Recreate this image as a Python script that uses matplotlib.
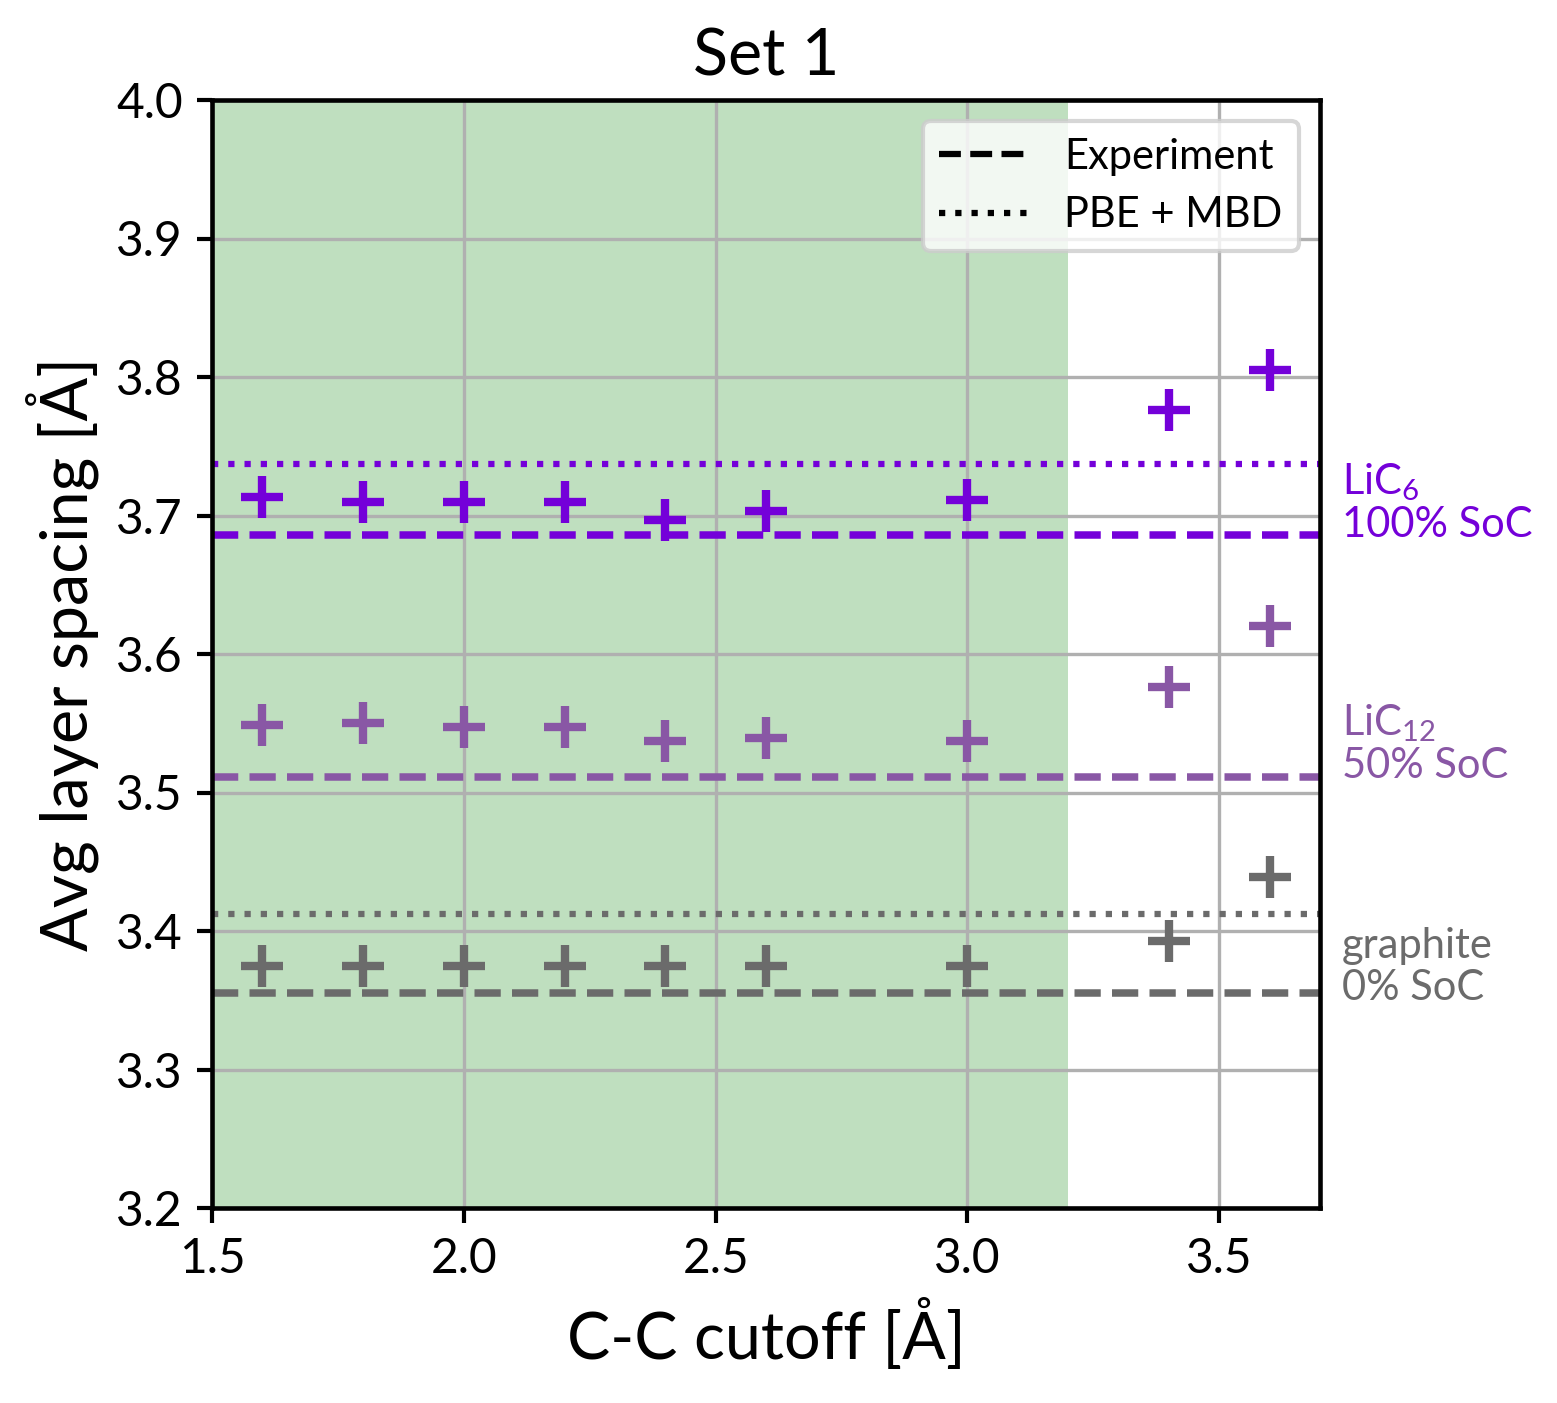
import matplotlib
matplotlib.use("Agg")
import matplotlib.pyplot as plt
import matplotlib.transforms as mtransforms

plt.rcParams['font.family'] = ['Lato', 'DejaVu Sans']
plt.rcParams['mathtext.fontset'] = 'custom'
plt.rcParams['mathtext.rm'] = 'Lato'
plt.rcParams['mathtext.it'] = 'Lato:italic'
plt.rcParams['mathtext.bf'] = 'Lato:bold'

cutoffs = [1.6, 1.8, 2.0, 2.2, 2.4, 2.6, 3.0, 3.4, 3.6]
lic6 = [3.713, 3.710, 3.710, 3.710, 3.697, 3.703, 3.711, 3.776, 3.805]
lic12 = [3.549, 3.550, 3.547, 3.547, 3.537, 3.539, 3.537, 3.576, 3.620]
graphite = [3.375, 3.375, 3.375, 3.375, 3.375, 3.375, 3.375, 3.393, 3.439]

exp_vals = {'lic6': 3.686, 'lic12': 3.511, 'graphite': 3.355}
mbd_vals = {'lic6': 3.737, 'graphite': 3.412}

colors = {'lic6': '#7400D9', 'lic12': '#8957A5', 'graphite': '#6B6B6B'}
labels = {'lic6': 'LiC$_6$\n100% SoC', 'lic12': 'LiC$_{12}$\n50% SoC', 'graphite': 'graphite\n0% SoC'}
label_y = {'lic6': 3.709, 'lic12': 3.535, 'graphite': 3.374}

green_range = (1.5, 3.2)
xlim = (1.5, 3.7)
ylim = (3.2, 4.0)

fig = plt.figure(figsize=(1557/300, 1403/300), dpi=300)
ax = fig.add_axes([212/1557, 1 - 1208/1403, (1320-212)/1557, (1208-100)/1403])

ax.axvspan(green_range[0], green_range[1], color='green', alpha=0.25, lw=0, zorder=1)
ax.grid(True, color='#b0b0b0', lw=0.8)

series = {'lic6': lic6, 'lic12': lic12, 'graphite': graphite}
for key, vals in series.items():
    c = colors[key]
    ax.plot(cutoffs, vals, linestyle='none', marker='+', ms=10, mew=2, color=c, zorder=3)
    ax.axhline(exp_vals[key], color=c, ls=(0, (3.5, 1.5)), lw=1.8, zorder=2.5)
    if key in mbd_vals:
        ax.axhline(mbd_vals[key], color=c, ls=(0, (1, 1.6)), lw=1.5, zorder=2.5)
    trans = mtransforms.blended_transform_factory(ax.transAxes, ax.transData)
    ax.text(1.02, label_y[key], labels[key], transform=trans, color=c, fontsize=10,
            va='center', ha='left', linespacing=1.1)

ax.plot([], [], color='black', ls=(0, (3.5, 1.5)), lw=1.5, label='Experiment')
ax.plot([], [], color='black', ls=(0, (1, 1.6)), lw=1.5, label='PBE + MBD')
ax.legend(loc='upper right', fontsize=10, handlelength=2.2, framealpha=0.8)

ax.set_xlim(*xlim)
ax.set_ylim(*ylim)
ax.set_xticks([1.5, 2.0, 2.5, 3.0, 3.5])
ax.set_yticks([3.2, 3.3, 3.4, 3.5, 3.6, 3.7, 3.8, 3.9, 4.0])
ax.tick_params(labelsize=11.5, width=1)
for s in ax.spines.values():
    s.set_linewidth(1.1)

ax.set_xlabel('C-C cutoff [Å]', fontsize=15.5)
ax.set_ylabel('Avg layer spacing [Å]', fontsize=15.5)
ax.set_title('Set 1', fontsize=15.5)

fig.savefig('out.png', dpi=300)
